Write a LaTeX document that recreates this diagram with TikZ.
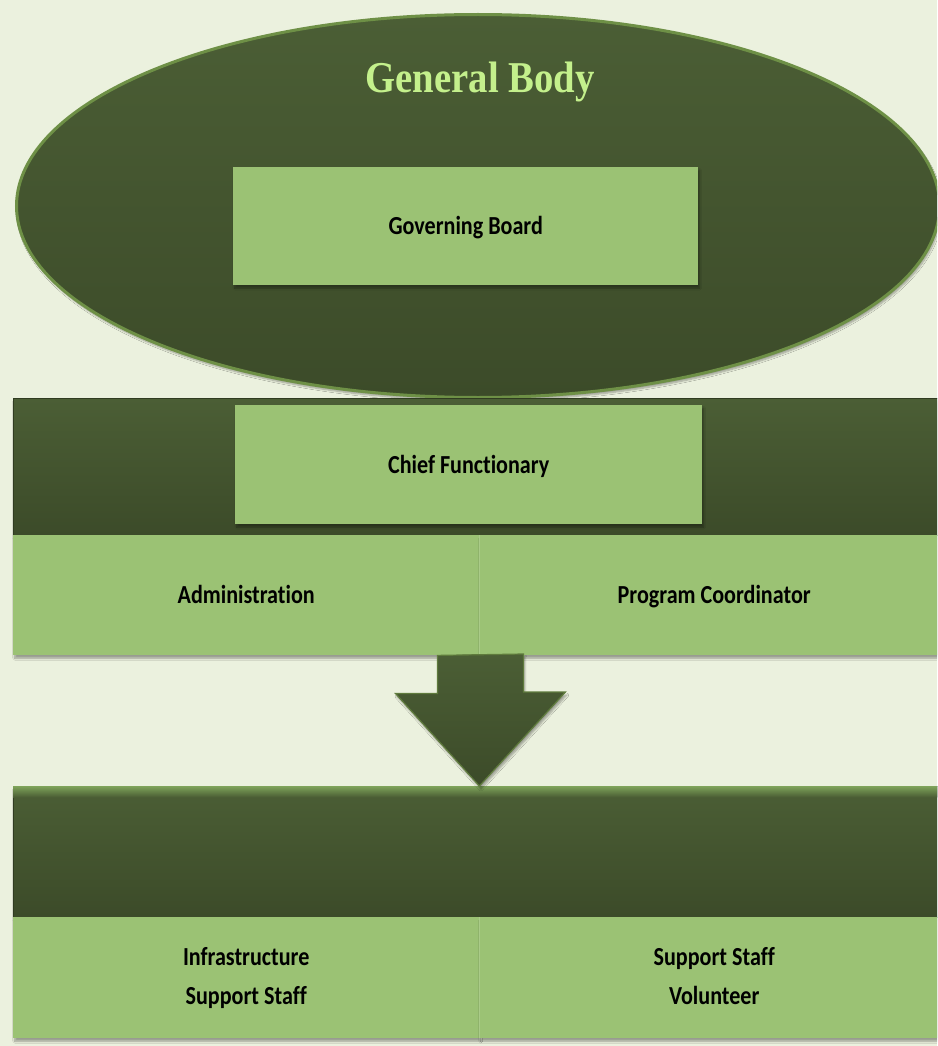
\documentclass[tikz,border=0pt]{standalone}
\usepackage{fontspec}
\setmainfont{Carlito}[FakeStretch=0.85, Ligatures=NoCommon]
\newfontfamily\headfont{Liberation Serif}[FakeStretch=0.88]
\usetikzlibrary{shapes.geometric,shadows.blur,calc}
\definecolor{bg}{HTML}{EBF1DE}
\definecolor{darkA}{HTML}{4B5E35}
\definecolor{darkB}{HTML}{3C4B29}
\definecolor{leaf}{HTML}{9BC274}
\definecolor{rim}{HTML}{6E9046}
\definecolor{bevel}{HTML}{7FA45A}
\definecolor{headtxt}{HTML}{C4F08C}
\tikzset{
  softshadow/.style={blur shadow={shadow xshift=1.5pt, shadow yshift=-3pt, shadow blur steps=6, shadow opacity=35}},
  darkband/.style={anchor=north west, inner sep=0pt, top color=darkA, bottom color=darkB, draw=darkB!80!black, line width=0.6pt, softshadow},
  leafbox/.style={anchor=north west, inner sep=0pt, fill=leaf, softshadow,
    font=\fontsize{26}{39}\selectfont\bfseries, text=black, align=center},
  oneline/.style={text height=20pt, text depth=3pt},
  arrowshape/.style={top color=darkA, bottom color=darkB, draw=rim!70!darkB, line width=1.2pt, line join=miter, softshadow},
}
\begin{document}
\begin{tikzpicture}[x=1pt,y=-1pt]
\fill[bg] (0,0) rectangle (937,1046);
\useasboundingbox (0,0) rectangle (937,1046);
\clip (0,0) rectangle (937,1046);

% General Body ellipse
\node[ellipse, inner sep=0pt, minimum width=923pt, minimum height=383pt,
      top color=darkA, bottom color=darkB, draw=rim, line width=3pt, softshadow] (body) at (478,206) {};
\node[anchor=base, font=\headfont\bfseries\fontsize{44}{44}\selectfont, text=headtxt] (title) at (480,93) {General Body};
\node[leafbox, oneline, minimum width=465pt, minimum height=118pt] (gb) at (233,167) {Governing Board};

% Chief band
\node[darkband, minimum width=935pt, minimum height=137pt] (band1) at (13,398) {};
\node[leafbox, oneline, minimum width=467pt, minimum height=119pt] (chief) at (235,405) {Chief Functionary};
\node[leafbox, oneline, minimum width=466pt, minimum height=120pt] (adm) at (13,535) {Administration};
\node[leafbox, oneline, minimum width=470pt, minimum height=120pt] (prog) at (479,535) {Program Coordinator};
\draw[leaf!85!white, line width=0.8pt] (adm.north east) -- (adm.south east);

% Lower band
\node[darkband, minimum width=935pt, minimum height=131pt] (band2) at (13,786) {};
\fill[top color=bevel, bottom color=darkA] (band2.north west) rectangle ++(935,11);
\node[leafbox, minimum width=466pt, minimum height=121pt] (infra) at (13,917) {Infrastructure\\Support Staff};
\node[leafbox, minimum width=470pt, minimum height=121pt] (supp) at (479,917) {Support Staff\\Volunteer\vphantom{p}};
\draw[leaf!85!white, line width=0.8pt] (infra.north east) -- (infra.south east);

% Arrow connector
\coordinate (asrc) at (adm.south east);
\coordinate (atip) at (asrc |- band2.north);
\filldraw[arrowshape] ([xshift=-42pt]asrc) -- ++(0,38) -- ++(-42,0) -- (atip)
  -- ++(86,-94) -- ++(-42,0) -- ++(0,-38) -- cycle;
\end{tikzpicture}
\end{document}
